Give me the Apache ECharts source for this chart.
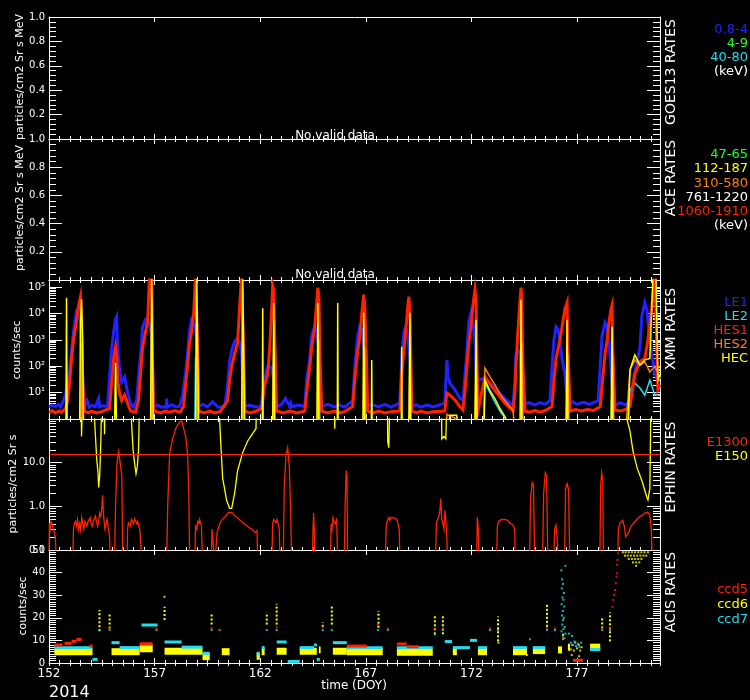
<!DOCTYPE html>
<html><head><meta charset="utf-8">
<script src="https://cdn.jsdelivr.net/npm/echarts@6.0.0/dist/echarts.min.js"></script>
<style>html,body{margin:0;padding:0;background:#000;}#c{width:750px;height:700px;}</style>
</head><body><div id="c"></div>
<script>
// ---------- time axis ----------
const DOY_START = 152, DOY_END = 180.93;
const dayTickStep = 5, dayMinorStep = 0.5;

// ---------- XMM rates [DOY, counts/sec] ----------
const xmmLE1 = [[152.00,2.8],[152.15,3.4],[152.30,2.9],[152.45,3.6],[152.55,2.8],[152.62,3.2],[152.78,8],[152.88,30],[152.97,60],[153.07,400],[153.16,2000],[153.26,8000],[153.30,12000],[153.40,9000],[153.50,5000],[153.59,60],[153.68,3],[153.80,5],[153.90,2.8],[154.05,3.3],[154.20,2.9],[154.35,6],[154.40,2.9],[154.50,3.2],[154.77,3],[154.87,40],[154.96,400],[155.06,2000],[155.15,6000],[155.20,7500],[155.25,500],[155.34,80],[155.44,25],[155.58,40],[155.72,10],[155.86,4],[156.00,2.8],[156.15,5],[156.24,40],[156.34,300],[156.43,3000],[156.57,6000],[156.67,7000],[156.76,8000],[156.86,1500],[156.95,3],[157.15,3.4],[157.30,2.8],[157.55,2.9],[157.57,6],[157.60,2.8],[157.80,3.5],[158.00,2.9],[158.18,3],[158.33,8],[158.47,60],[158.56,300],[158.66,2500],[158.75,5800],[158.85,4000],[158.94,3000],[159.04,200],[159.09,3],[159.30,3.6],[159.50,2.9],[159.75,4.5],[160.00,2.8],[160.32,3],[160.46,20],[160.55,150],[160.65,400],[160.79,900],[160.93,1200],[161.03,800],[161.12,300],[161.22,3],[161.50,3.3],[161.75,2.9],[162.00,2.8],[162.07,4],[162.21,40],[162.36,100],[162.45,110],[162.55,90],[162.64,30],[162.78,3],[163.00,3.5],[163.20,6],[163.40,2.9],[163.45,4],[163.50,2.9],[163.80,3.4],[164.11,3],[164.20,30],[164.35,200],[164.44,1500],[164.58,3150],[164.68,2000],[164.78,400],[164.91,3],[165.20,3.6],[165.50,2.9],[165.75,3.4],[166.00,2.8],[166.38,5],[166.48,100],[166.62,1500],[166.71,3150],[166.81,2500],[166.90,600],[167.04,3],[167.30,3.5],[167.60,2.9],[167.90,3.6],[168.20,2.8],[168.61,4],[168.70,200],[168.80,2000],[168.89,3150],[168.99,1500],[169.09,200],[169.18,3],[169.40,3.5],[169.60,2.8],[169.90,3.4],[170.20,2.9],[170.74,4],[170.84,175],[170.89,40],[170.98,23],[171.22,12.7],[171.45,6.3],[171.60,5],[171.69,40],[171.79,400],[171.88,5000],[171.98,10700],[172.07,5000],[172.17,1000],[172.22,40],[172.31,30],[172.64,36],[173.11,15],[173.59,6],[173.82,4],[173.97,3],[174.06,30],[174.11,270],[174.20,420],[174.30,300],[174.39,20],[174.44,3.4],[174.70,4.2],[175.00,3.4],[175.25,4.2],[175.50,3.6],[175.72,5],[175.82,100],[175.91,1000],[176.01,3150],[176.10,2500],[176.19,1000],[176.29,200],[176.43,50],[176.57,3.5],[176.80,4.5],[177.00,3.6],[177.30,4.3],[177.60,3.6],[178.00,5],[178.10,100],[178.19,1500],[178.33,4500],[178.43,3000],[178.52,800],[178.66,20],[178.80,3.4],[179.05,4.2],[179.30,3.4],[179.51,5],[179.74,60],[179.98,500],[180.07,8000],[180.21,26000],[180.31,14000],[180.40,2000],[180.55,300],[180.69,50],[180.83,30],[180.93,40]];
const xmmLE2 = [[152.00,0.3],[153.45,0.3],[153.49,4.4],[153.54,0.3],[156.81,0.3],[156.86,230],[156.91,0.3],[158.90,0.3],[158.94,230],[158.99,40],[159.04,0.3],[161.12,0.3],[161.17,100],[161.22,0.3],[164.73,0.3],[164.78,30],[164.82,0.3],[172.17,0.3],[172.22,50],[172.27,0.3],[172.59,0.3],[172.64,23],[172.88,10],[173.11,4.5],[173.35,2],[173.59,1.1],[173.73,0.5],[174.35,0.3],[174.39,20],[174.44,0.3],[176.48,0.3],[176.53,40],[176.57,0.3],[178.61,0.3],[178.66,40],[178.70,0.3],[179.40,0.3],[179.51,12.7],[179.74,23],[179.98,15],[180.21,8],[180.45,30],[180.69,8],[180.93,8]];
const xmmHES1 = [[152.00,1.8],[152.15,2.1],[152.30,1.7],[152.45,2.0],[152.60,1.8],[152.78,2.5],[152.88,5],[152.97,20],[153.07,200],[153.16,1000],[153.26,3000],[153.40,20000],[153.49,44000],[153.54,5000],[153.59,30],[153.68,2],[153.85,1.7],[154.00,2.0],[154.25,1.7],[154.50,1.9],[154.87,2.5],[154.96,20],[155.06,200],[155.15,550],[155.20,300],[155.25,30],[155.34,10],[155.44,5],[155.58,8],[155.72,4],[155.86,2],[156.10,1.8],[156.24,5],[156.34,60],[156.43,500],[156.57,2000],[156.67,5000],[156.76,300000],[156.86,300000],[156.91,100],[156.95,2],[157.30,1.7],[157.50,2.0],[157.70,1.8],[157.95,2.1],[158.20,1.8],[158.37,3],[158.47,20],[158.56,100],[158.66,800],[158.75,2000],[158.85,10000],[158.94,300000],[158.99,300000],[159.04,500],[159.09,2],[159.35,1.7],[159.60,2.0],[159.85,1.7],[160.10,1.9],[160.46,5],[160.55,30],[160.65,100],[160.79,300],[160.93,800],[161.03,20000],[161.12,300000],[161.17,300000],[161.22,200],[161.27,2],[161.55,1.7],[161.80,2.0],[162.07,2.5],[162.21,20],[162.36,50],[162.45,500],[162.55,20000],[162.59,115000],[162.64,80000],[162.69,1000],[162.78,2],[163.10,1.7],[163.40,2.0],[163.75,1.7],[164.11,2],[164.20,10],[164.35,100],[164.44,500],[164.58,3000],[164.68,30000],[164.73,96000],[164.78,40000],[164.82,500],[164.91,2],[165.20,1.7],[165.50,2.0],[165.75,1.7],[166.00,1.9],[166.38,3],[166.48,30],[166.62,400],[166.71,1200],[166.81,10000],[166.90,52000],[166.95,20000],[167.04,100],[167.09,2],[167.35,1.7],[167.60,2.0],[167.90,1.7],[168.20,1.9],[168.61,2],[168.70,50],[168.80,400],[168.89,2000],[168.99,20000],[169.04,44000],[169.09,10000],[169.18,2],[169.40,1.7],[169.60,2.0],[169.90,1.7],[170.20,1.9],[170.74,2],[170.84,9.7],[170.98,8],[171.22,5.3],[171.45,3],[171.60,2.2],[171.69,10],[171.79,100],[171.88,800],[171.98,3000],[172.07,20000],[172.17,80000],[172.22,30000],[172.27,100],[172.31,2],[172.64,40],[173.11,12],[173.59,4],[173.97,2],[174.06,10],[174.11,100],[174.20,2000],[174.30,30000],[174.35,96000],[174.39,40000],[174.44,100],[174.54,2],[174.75,1.8],[175.00,2.1],[175.25,1.8],[175.50,2.1],[175.82,3],[175.91,30],[176.01,200],[176.19,1000],[176.29,3000],[176.43,15000],[176.53,26000],[176.57,500],[176.67,2],[176.95,2.3],[177.20,2.0],[177.50,2.3],[177.80,2.1],[178.10,3],[178.19,20],[178.33,300],[178.43,1000],[178.52,5000],[178.61,15000],[178.66,21000],[178.70,300],[178.80,2.2],[179.05,2.0],[179.30,2.3],[179.51,3],[179.74,50],[179.98,150],[180.21,200],[180.36,1000],[180.55,20000],[180.69,300000],[180.78,300000],[180.83,13],[180.93,20]];
const xmmHES2 = [[152.00,0.3],[153.49,0.3],[153.54,800],[153.59,0.3],[156.81,0.3],[156.86,2000],[156.91,0.3],[158.94,0.3],[158.99,3000],[159.04,0.3],[161.12,0.3],[161.17,3000],[161.22,0.3],[162.59,0.3],[162.64,500],[162.69,0.3],[164.73,0.3],[164.78,1000],[164.82,0.3],[166.90,0.3],[166.95,500],[167.00,0.3],[169.04,0.3],[169.09,500],[169.13,0.3],[170.80,0.3],[170.84,1.5],[170.98,1.3],[171.22,1.1],[171.45,0.3],[172.17,0.3],[172.22,1000],[172.27,0.3],[172.59,0.3],[172.64,87],[172.88,40],[173.11,20],[173.35,9],[173.59,5],[173.82,3],[173.97,2.2],[174.06,0.3],[174.35,0.3],[174.39,800],[174.44,0.3],[176.53,0.3],[176.57,300],[176.62,0.3],[178.66,0.3],[178.70,300],[178.75,0.3],[179.27,0.3],[179.36,1.5],[179.51,73],[179.74,175],[179.98,110],[180.21,150],[180.45,60],[180.69,100],[180.93,40]];
const xmmHEC = [[152.00,0.3],[152.80,0.3],[152.83,40000],[152.86,0.3],[153.45,0.3],[153.49,5000],[153.54,34000],[153.59,1000],[153.64,0.3],[155.10,0.3],[155.15,135],[155.20,0.3],[156.81,0.3],[156.86,300000],[156.91,300000],[156.95,0.3],[158.94,0.3],[158.99,300000],[159.04,300000],[159.09,0.3],[161.12,0.3],[161.17,300000],[161.22,300000],[161.27,0.3],[162.10,0.3],[162.12,16000],[162.14,0.3],[162.59,0.3],[162.64,25000],[162.69,0.3],[164.68,0.3],[164.73,25000],[164.78,0.3],[165.65,0.3],[165.67,25000],[165.69,0.3],[166.86,0.3],[166.90,10700],[166.95,0.3],[167.26,0.3],[167.28,175],[167.30,0.3],[168.68,0.3],[168.70,550],[168.72,0.3],[169.04,0.3],[169.09,10700],[169.13,0.3],[170.90,0.3],[170.98,1.4],[171.30,1.4],[171.40,0.3],[172.17,0.3],[172.22,5800],[172.27,0.3],[172.59,0.3],[172.64,30],[172.88,12],[173.11,6],[173.35,2.5],[173.59,1.2],[173.82,0.5],[174.30,0.3],[174.35,33600],[174.39,0.3],[176.48,0.3],[176.53,5800],[176.57,0.3],[178.61,0.3],[178.66,3150],[178.70,0.3],[179.40,0.3],[179.51,73],[179.74,270],[179.98,110],[180.21,175],[180.45,200],[180.60,300000],[180.74,300000],[180.83,30],[180.93,50]];

// ---------- EPHIN rates [DOY, particles/cm2 Sr s] ----------
const ephinE1300 = [[152.00,0.05],[152.02,0.41],[152.06,0.3],[152.10,0.45],[152.15,0.38],[152.20,0.35],[152.30,0.2],[152.35,0.05],[153.12,0.05],[153.16,0.3],[153.20,0.4],[153.25,0.45],[153.30,0.35],[153.35,0.5],[153.40,0.3],[153.45,0.4],[153.50,0.28],[153.55,0.55],[153.60,0.4],[153.65,0.3],[153.70,0.45],[153.75,0.5],[153.80,0.35],[153.85,0.45],[153.90,0.5],[153.95,0.55],[154.00,0.4],[154.05,0.35],[154.10,0.45],[154.15,0.5],[154.20,0.6],[154.25,0.55],[154.30,0.35],[154.35,0.45],[154.40,0.7],[154.45,0.6],[154.50,0.9],[154.54,1.78],[154.57,0.8],[154.60,0.5],[154.65,0.3],[154.70,0.3],[154.75,0.5],[154.80,0.45],[154.87,0.2],[154.90,0.05],[155.10,0.05],[155.15,1],[155.22,10],[155.30,18],[155.38,20],[155.45,5],[155.49,0.05],[155.70,0.05],[155.72,0.3],[155.76,0.42],[155.80,0.45],[155.85,0.35],[155.90,0.5],[155.95,0.48],[156.00,0.4],[156.05,0.52],[156.10,0.55],[156.15,0.4],[156.20,0.45],[156.25,0.35],[156.30,0.3],[156.40,0.05],[157.57,0.05],[157.62,1],[157.71,16],[157.85,35],[158.00,60],[158.14,80],[158.28,92],[158.37,85],[158.47,40],[158.56,16],[158.62,2],[158.66,0.05],[158.90,0.05],[158.94,0.35],[159.00,0.3],[159.04,0.45],[159.10,0.4],[159.13,0.5],[159.22,0.35],[159.27,0.05],[159.68,0.05],[159.72,0.3],[159.80,0.28],[159.85,0.05],[159.92,0.05],[159.96,0.25],[160.08,0.4],[160.20,0.5],[160.32,0.56],[160.42,0.65],[160.51,0.73],[160.60,0.68],[160.70,0.7],[160.80,0.6],[160.93,0.55],[161.02,0.5],[161.10,0.45],[161.20,0.42],[161.30,0.38],[161.40,0.35],[161.50,0.32],[161.62,0.3],[161.74,0.25],[161.85,0.28],[161.88,0.05],[162.55,0.05],[162.59,0.4],[162.64,0.5],[162.70,0.55],[162.75,0.42],[162.80,0.5],[162.90,0.3],[162.94,0.05],[163.09,0.05],[163.14,3],[163.22,15],[163.30,22],[163.38,8],[163.45,0.5],[163.49,0.05],[164.47,0.05],[164.50,0.3],[164.53,0.7],[164.56,0.3],[164.58,0.05],[165.32,0.05],[165.36,0.4],[165.40,0.3],[165.45,0.55],[165.50,0.45],[165.55,0.4],[165.62,0.5],[165.67,0.05],[165.98,0.05],[166.02,1],[166.07,6.6],[166.11,5],[166.14,0.05],[167.93,0.05],[167.96,0.3],[168.00,0.45],[168.04,0.5],[168.09,0.55],[168.14,0.48],[168.19,0.55],[168.24,0.52],[168.30,0.55],[168.37,0.5],[168.44,0.52],[168.50,0.45],[168.58,0.3],[168.62,0.05],[170.30,0.05],[170.34,0.4],[170.40,0.5],[170.45,0.55],[170.50,0.7],[170.55,1.5],[170.60,0.5],[170.65,0.4],[170.70,0.3],[170.75,0.8],[170.82,0.3],[170.88,0.05],[172.25,0.05],[172.28,0.56],[172.33,0.3],[172.36,0.05],[173.19,0.05],[173.23,0.35],[173.29,0.45],[173.35,0.43],[173.42,0.5],[173.50,0.46],[173.57,0.5],[173.65,0.45],[173.72,0.48],[173.80,0.42],[173.87,0.45],[173.95,0.38],[174.05,0.3],[174.08,0.05],[174.75,0.05],[174.80,1.5],[174.88,3.5],[174.94,3],[175.00,0.05],[175.37,0.05],[175.42,2],[175.50,5.9],[175.56,5],[175.62,0.05],[175.90,0.05],[175.94,0.3],[176.00,0.37],[176.06,0.2],[176.10,0.05],[176.41,0.05],[176.46,2.5],[176.53,3.3],[176.60,2.5],[176.66,0.05],[178.08,0.05],[178.12,3],[178.17,5.9],[178.22,4],[178.25,0.05],[178.92,0.05],[178.96,0.3],[179.03,0.41],[179.10,0.45],[179.17,0.48],[179.24,0.35],[179.30,0.2],[179.38,0.22],[179.45,0.25],[179.52,0.32],[179.60,0.37],[179.70,0.42],[179.80,0.48],[179.90,0.55],[180.00,0.6],[180.10,0.62],[180.20,0.7],[180.28,0.68],[180.36,0.73],[180.45,0.6],[180.52,0.3],[180.56,0.05],[180.93,0.05]];
const ephinE150 = [[152.00,300],[153.52,300],[153.54,40],[153.59,300],[154.12,300],[154.18,60],[154.26,12],[154.32,6],[154.35,2.7],[154.40,5],[154.45,25],[154.50,300],[154.60,300],[154.63,45],[154.66,300],[155.88,300],[155.91,80],[155.98,20],[156.05,10],[156.12,5.6],[156.18,8],[156.24,20],[156.29,300],[160.05,300],[160.08,90],[160.15,20],[160.22,4.5],[160.41,1.37],[160.55,0.9],[160.65,0.9],[160.79,2],[160.93,6.6],[161.17,17],[161.40,31],[161.64,46],[161.80,60],[161.83,300],[165.50,300],[165.53,60],[165.56,300],[168.02,300],[168.04,30],[168.09,22],[168.14,300],[170.58,300],[170.60,35],[170.70,40],[170.79,35],[170.84,300],[179.33,300],[179.36,100],[179.51,53],[179.65,18.7],[179.84,7.7],[180.07,3.9],[180.31,1.6],[180.36,1.4],[180.45,2.6],[180.50,300],[180.93,300]];
const ephinLimit = 15.5;

// ---------- ACIS rates ----------
// bands: [start DOY, end DOY, counts/sec]
const ccd5Bands = [[152.26,152.64,8.0],[152.73,153.07,8.7],[153.07,153.30,9.6],[153.30,153.54,10.4],[153.92,154.06,7.5],[156.29,156.91,8.5],[166.10,167.05,7.5],[168.47,168.94,8.4],[168.94,169.50,7.2],[176.81,177.28,1.2]];
const ccd6Bands = [[152.26,154.06,5.0],[154.96,156.29,5.0],[156.29,156.91,6.3],[157.47,159.27,5.2],[159.27,159.61,2.8],[160.18,160.55,5.0],[161.83,161.98,3.0],[162.07,162.21,5.0],[162.78,163.25,5.2],[163.87,164.68,5.2],[164.78,164.86,5.8],[165.44,166.10,5.2],[166.10,167.80,5.0],[168.47,170.17,4.8],[171.12,171.31,5.0],[172.31,172.74,5.0],[173.97,174.63,5.0],[174.91,175.49,5.5],[176.10,176.29,5.8],[176.57,176.67,7.0],[177.62,178.10,7.0]];
const ccd7Bands = [[152.26,154.06,6.8],[154.06,154.30,1.6],[154.96,155.34,9.0],[155.34,156.29,6.8],[156.38,157.14,16.8],[157.47,158.28,9.3],[158.28,159.27,7.0],[159.27,159.61,4.3],[161.83,161.98,4.3],[162.07,162.21,6.8],[162.78,163.25,9.3],[163.30,163.87,0.7],[163.87,164.55,6.8],[164.55,164.68,8.0],[164.68,164.82,1.6],[165.44,166.10,9.0],[166.10,167.80,6.8],[168.47,170.17,6.8],[170.74,171.08,9.5],[171.12,171.93,6.8],[171.93,172.26,10.0],[172.31,172.74,6.8],[173.97,174.63,6.8],[174.91,175.49,6.8],[177.62,178.10,6.0]];
// streaks: [DOY, low, high]
const ccd6Streaks = [[154.39,14,23.5],[154.87,15.3,22.4],[157.47,19,24.9],[159.70,17,22.4],[162.31,17,22.4],[162.78,17,26.2],[164.96,16,18],[165.39,17,25.4],[167.60,15.6,23],[170.27,12.7,21.6],[170.65,12.7,21.6],[173.26,9.6,20.6],[175.58,16,25.9],[176.34,10.3,13.3],[178.19,15.3,20.6],[178.56,9.6,22.4]];
// dots: [DOY, counts/sec]
const ccd5Dots = [[154.87,15.5],[157.09,15.3],[159.70,15.5],[160.08,14.6],[162.78,15.8],[164.96,15.8],[167.57,16.8],[168.04,15.3],[170.27,15.3],[170.65,15.3],[172.88,15.3],[175.58,15.3],[175.96,15.3],[176.34,11],[178.19,15.3],[178.56,15.3],[178.68,24.9],[178.71,27.9],[178.76,30.1],[178.81,32.3],[178.84,35.3],[178.87,38.2],[178.89,39.7],[178.90,43.4],[178.92,45.6],[178.95,48.5]];
const ccd6Dots = [[157.47,29.3],[173.28,9],[174.63,3.5],[176.70,6],[176.78,8],[176.85,5.5],[176.92,9],[177.00,6.5],[177.08,8],[177.15,5.5],[177.22,7],[176.75,3.5],[177.10,3],[179.17,49],[179.30,49],[179.45,49],[179.60,49],[179.75,49],[179.90,49],[180.05,49],[180.20,49],[180.36,49],[179.27,47.5],[179.40,47.5],[179.55,47.5],[179.70,47.5],[179.85,47.5],[180.00,47.5],[180.15,47.5],[180.28,47.5],[179.45,46],[179.60,46],[179.75,46],[179.90,46],[180.05,46],[179.65,44.5],[179.80,44.5],[179.95,44.5],[179.80,43]];
const ccd7Dots = [[154.39,14.6],[154.87,14.6],[157.09,14.6],[159.70,14.6],[160.08,14.6],[162.31,14.6],[162.78,14.6],[164.96,14.6],[165.39,14.6],[167.57,14.6],[168.04,14.6],[170.27,12.7],[170.65,14.6],[172.88,14.6],[173.26,14.6],[174.77,10.5],[175.58,14.6],[175.96,14.6],[178.19,14.6],[178.56,14.6],[180.93,14.6],[176.26,41],[176.45,43],[176.30,37],[176.34,35],[176.28,33],[176.38,31],[176.31,29],[176.36,28],[176.27,26],[176.40,25],[176.33,23],[176.29,21],[176.38,20],[176.34,19],[176.30,17],[176.42,16],[176.36,15],[176.27,14],[176.45,13],[176.33,12],[176.40,11],[176.72,9],[176.80,8],[176.88,9.5],[176.95,7.5],[177.05,8.5],[177.12,7],[177.20,9],[176.76,12],[176.62,13]];

// ---------- tick values for log axes ----------
const xmmMinorTicks = [2,3,4,5,6,7,8,9,20,30,40,50,60,70,80,90,200,300,400,500,600,700,800,900,2000,3000,4000,5000,6000,7000,8000,9000,20000,30000,40000,50000,60000,70000,80000,90000];
const ephinMinorTicks = [0.2,0.3,0.4,0.5,0.6,0.7,0.8,0.9,2,3,4,5,6,7,8,9,20,30,40,50,60,70,80,90];
const supDigits = {'0':'⁰','1':'¹','2':'²','3':'³','4':'⁴','5':'⁵','6':'⁶','7':'⁷','8':'⁸','9':'⁹'};

// ---------- colours ----------
const C = {blue:'#2222ff', green:'#22ff22', cyan:'#22ddee', red:'#ff2200', orange:'#ff8000', yellow:'#ffff00', white:'#ffffff'};
const FONT = 'DejaVu Sans';

// ---------- layout ----------
const L = 49, R = 90;
const tops = [17,139,280,419,550], heights = [122,141,139,131,113];

const X = d => d - DOY_START;
const pts = arr => arr.map(p => [X(p[0]), p[1]]);

const grids = tops.map((t,i)=>({left:L, right:R, top:t, height:heights[i], show:false}));

const xAxes = [];
tops.forEach((t,i)=>{
  const common = {type:'value', gridIndex:i, min:0, max:DOY_END-DOY_START, splitLine:{show:false}, minorSplitLine:{show:false}};
  const major = Object.assign({}, common, {interval:dayTickStep, axisLine:{show:true, onZero:false, lineStyle:{color:C.white, width:1}},
    axisTick:{show:true, inside:true, length:5, lineStyle:{color:C.white}}});
  xAxes.push(Object.assign({}, major, {position:'bottom', axisLabel: i===4 ? {show:true, color:C.white, fontFamily:FONT, fontSize:12, margin:5, showMaxLabel:false,
      formatter: v => (Math.abs(v/dayTickStep - Math.round(v/dayTickStep))<1e-6) ? String(Math.round(v + DOY_START)) : ''} : {show:false}}));
  xAxes.push(Object.assign({}, major, {position:'top', axisLabel:{show:false}}));
  const minor = Object.assign({}, common, {interval:dayMinorStep, axisLine:{show:false}, axisLabel:{show:false},
    axisTick:{show:true, inside:true, length:3, lineStyle:{color:C.white}}});
  xAxes.push(Object.assign({}, minor, {position:'bottom'}));
  xAxes.push(Object.assign({}, minor, {position:'top'}));
});

function yPair(i, cfg){
  const base = Object.assign({gridIndex:i, splitLine:{show:false}, minorSplitLine:{show:false},
    axisLine:{show:true, onZero:false, lineStyle:{color:C.white, width:1}},
    axisTick:{show:true, inside:true, length:13, lineStyle:{color:C.white}}}, cfg);
  const left = Object.assign({}, base, {position:'left', axisLabel:Object.assign({show:true, color:C.white, fontFamily:FONT, fontSize:10, margin:4}, cfg.axisLabel||{})});
  const right = Object.assign({}, base, {position:'right', axisLabel:{show:false}});
  return [left, right];
}
const linLabel = v => v === 0 ? '' : v.toFixed(1);
const yAxes = [].concat(
  yPair(0, {type:'value', min:0, max:1, interval:0.2, minorTick:{show:true, splitNumber:5, length:7, lineStyle:{color:C.white}}, axisLabel:{formatter:linLabel}}),
  yPair(1, {type:'value', min:0, max:1, interval:0.2, minorTick:{show:true, splitNumber:5, length:7, lineStyle:{color:C.white}}, axisLabel:{formatter:linLabel}}),
  yPair(2, {type:'log', min:1, max:188000, logBase:10, axisLabel:{formatter: v => {
      const e = Math.round(Math.log10(v));
      if (e < 1 || Math.abs(Math.log10(v) - e) > 1e-6) return '';
      return '10' + String(e).split('').map(c=>supDigits[c]).join('');
    }}}),
  yPair(3, {type:'log', min:0.1, max:100, logBase:10, axisLabel:{formatter: v => {
      const e = Math.log10(v);
      if (Math.abs(e - Math.round(e)) > 1e-6 || v >= 100) return '';
      return v.toFixed(1);
    }}}),
  yPair(4, {type:'value', min:0, max:50, interval:10, minorTick:{show:true, splitNumber:10, length:7, lineStyle:{color:C.white}}, axisLabel:{formatter: v => String(v)}})
);

function lineSeries(gi, data, color, width, extra){
  return Object.assign({type:'line', xAxisIndex:4*gi, yAxisIndex:2*gi, data:pts(data), showSymbol:false, symbol:'none',
    clip:true, silent:true, animation:false, lineStyle:{color:color, width:width, join:'miter'}, itemStyle:{color:color}}, extra||{});
}
function minorTickSeries(gi, values){
  return {type:'custom', xAxisIndex:4*gi, yAxisIndex:2*gi, silent:true, clip:false, animation:false,
    data: values.map(v=>[0, v]),
    renderItem(params, api){
      const cs = params.coordSys;
      const p = api.coord([0, api.value(1)]);
      const y = Math.round(p[1]) + 0.5;
      return {type:'group', children:[
        {type:'line', shape:{x1:cs.x, y1:y, x2:cs.x+7, y2:y}, style:{stroke:C.white, lineWidth:1}},
        {type:'line', shape:{x1:cs.x+cs.width-7, y1:y, x2:cs.x+cs.width, y2:y}, style:{stroke:C.white, lineWidth:1}}
      ]};
    }};
}
function bandSeries(gi, bands, color, thick){
  return {type:'custom', xAxisIndex:4*gi, yAxisIndex:2*gi, silent:true, animation:false,
    data: bands.map(b=>[X(b[0]), X(b[1]), b[2]]), encode:{x:[0,1], y:2},
    renderItem(params, api){
      const a = api.coord([api.value(0), api.value(2)]);
      const b = api.coord([api.value(1), api.value(2)]);
      return {type:'rect', shape:{x:a[0], y:a[1]-thick/2, width:Math.max(1, b[0]-a[0]), height:thick}, style:{fill:color}};
    }};
}
function streakSeries(gi, streaks, color){
  return {type:'custom', xAxisIndex:4*gi, yAxisIndex:2*gi, silent:true, animation:false,
    data: streaks.map(s=>[X(s[0]), s[1], s[2]]), encode:{x:0, y:[1,2]},
    renderItem(params, api){
      const a = api.coord([api.value(0), api.value(1)]);
      const b = api.coord([api.value(0), api.value(2)]);
      return {type:'line', shape:{x1:a[0], y1:a[1], x2:b[0], y2:b[1]}, style:{stroke:color, lineWidth:2, lineDash:[2,2]}};
    }};
}
function dotSeries(gi, dots, color, size){
  return {type:'scatter', xAxisIndex:4*gi, yAxisIndex:2*gi, silent:true, animation:false, symbol:'rect', symbolSize:size,
    data: pts(dots), itemStyle:{color:color}};
}

const series = [
  minorTickSeries(2, xmmMinorTicks),
  minorTickSeries(3, ephinMinorTicks),
  lineSeries(2, xmmLE1, C.blue, 3),
  lineSeries(2, xmmLE2, C.cyan, 1.5),
  lineSeries(2, xmmHES1, C.red, 3),
  lineSeries(2, xmmHES2, C.orange, 1.5),
  lineSeries(2, xmmHEC, C.yellow, 1.5),
  lineSeries(3, ephinE1300, C.red, 1.3, {markLine:{silent:true, symbol:'none', animation:false, label:{show:false},
      lineStyle:{color:C.red, width:1, type:'solid'}, data:[{yAxis:ephinLimit}]}}),
  lineSeries(3, ephinE150, C.yellow, 1.3),
  bandSeries(4, ccd6Bands, C.yellow, 7),
  bandSeries(4, ccd7Bands, C.cyan, 3),
  bandSeries(4, ccd5Bands, C.red, 3),
  streakSeries(4, ccd6Streaks, C.yellow),
  dotSeries(4, ccd6Dots, C.yellow, 2),
  dotSeries(4, ccd7Dots, C.cyan, 2),
  dotSeries(4, ccd5Dots, C.red, 2)
];

function txt(text, x, y, color, size, align, rot){
  return {type:'text', x:x, y:y, rotation: rot||0, silent:true,
    style:{text:text, fill:color, font: size+'px "'+FONT+'"', align:align||'center', verticalAlign:'middle'}};
}
const graphic = [
  txt('particles/cm2 Sr s MeV', 20, 77, C.white, 11, 'center', Math.PI/2),
  txt('particles/cm2 Sr s MeV', 20, 208, C.white, 11, 'center', Math.PI/2),
  txt('counts/sec', 17, 350, C.white, 11, 'center', Math.PI/2),
  txt('particles/cm2 Sr s', 13, 484, C.white, 11, 'center', Math.PI/2),
  txt('counts/sec', 23, 606, C.white, 11, 'center', Math.PI/2),
  txt('No valid data', 335, 136, C.white, 12),
  txt('No valid data', 335, 275, C.white, 12),
  txt('GOES13 RATES', 671, 72, C.white, 14, 'center', Math.PI/2),
  txt('ACE RATES', 671, 178, C.white, 14, 'center', Math.PI/2),
  txt('XMM RATES', 671, 329, C.white, 14, 'center', Math.PI/2),
  txt('EPHIN RATES', 671, 467, C.white, 14, 'center', Math.PI/2),
  txt('ACIS RATES', 671, 592, C.white, 14, 'center', Math.PI/2),
  txt('0.8-4', 748, 30, C.blue, 13, 'right'),
  txt('4-9', 748, 44, C.green, 13, 'right'),
  txt('40-80', 748, 58, C.cyan, 13, 'right'),
  txt('(keV)', 748, 72, C.white, 13, 'right'),
  txt('47-65', 748, 155, C.green, 13, 'right'),
  txt('112-187', 748, 169, C.yellow, 13, 'right'),
  txt('310-580', 748, 184, C.orange, 13, 'right'),
  txt('761-1220', 748, 198, C.white, 13, 'right'),
  txt('1060-1910', 748, 212, C.red, 13, 'right'),
  txt('(keV)', 748, 226, C.white, 13, 'right'),
  txt('LE1', 748, 303, C.blue, 13, 'right'),
  txt('LE2', 748, 317, C.cyan, 13, 'right'),
  txt('HES1', 748, 331, C.red, 13, 'right'),
  txt('HES2', 748, 345, C.orange, 13, 'right'),
  txt('HEC', 748, 359, C.yellow, 13, 'right'),
  txt('E1300', 748, 443, C.red, 13, 'right'),
  txt('E150', 748, 457, C.yellow, 13, 'right'),
  txt('ccd5', 748, 590, C.red, 13, 'right'),
  txt('ccd6', 748, 605, C.yellow, 13, 'right'),
  txt('ccd7', 748, 620, C.cyan, 13, 'right'),
  txt('time (DOY)', 354, 686, C.white, 12),
  txt('2014', 49, 693, C.white, 16, 'left')
];

const chart = echarts.init(document.getElementById('c'), null, {renderer:'canvas'});
chart.setOption({
  backgroundColor:'#000', animation:false,
  textStyle:{fontFamily:FONT},
  grid:grids, xAxis:xAxes, yAxis:yAxes, series:series, graphic:graphic
});
</script></body></html>
